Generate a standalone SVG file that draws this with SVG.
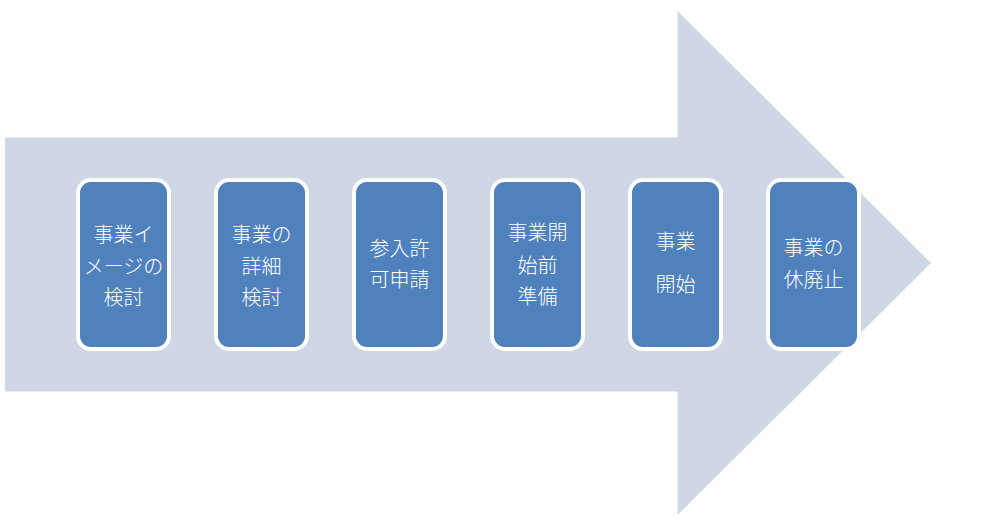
<svg xmlns="http://www.w3.org/2000/svg" width="1000" height="526" viewBox="0 0 1000 526">
<style>
.box{fill:#4F81BD;stroke:#FFFFFF;stroke-width:4}
.t{fill:#FFFFFF;font-family:"Noto Sans CJK JP","Noto Sans CJK SC",sans-serif;font-size:20px;font-weight:300;text-anchor:middle}
</style>
<rect width="1000" height="526" fill="#FFFFFF"/>
<g id="arrow">
<polygon points="5,137.5 677.5,137.5 677.5,11 931,263 677.5,515 677.5,391.5 5,391.5" fill="#CFD7E6"/>
</g>
<g id="connectors"></g>
<g id="n1">
<rect class="box" x="78" y="180" width="91" height="169" rx="13"/>
<text class="t" x="123.5" y="242">事業イ</text>
<text class="t" x="123.5" y="274">メージの</text>
<text class="t" x="123.5" y="305">検討</text>
</g>
<g id="n2">
<rect class="box" x="216" y="180" width="91" height="169" rx="13"/>
<text class="t" x="261.5" y="242">事業の</text>
<text class="t" x="261.5" y="274">詳細</text>
<text class="t" x="261.5" y="305">検討</text>
</g>
<g id="n3">
<rect class="box" x="354" y="180" width="91" height="169" rx="13"/>
<text class="t" x="399.5" y="256">参入許</text>
<text class="t" x="399.5" y="287">可申請</text>
</g>
<g id="n4">
<rect class="box" x="492" y="180" width="91" height="169" rx="13"/>
<text class="t" x="537.5" y="240">事業開</text>
<text class="t" x="537.5" y="273">始前</text>
<text class="t" x="537.5" y="304">準備</text>
</g>
<g id="n5">
<rect class="box" x="630" y="180" width="91" height="169" rx="13"/>
<text class="t" x="675.5" y="249">事業</text>
<text class="t" x="675.5" y="292">開始</text>
</g>
<g id="n6">
<rect class="box" x="768" y="180" width="91" height="169" rx="13"/>
<text class="t" x="813.5" y="255">事業の</text>
<text class="t" x="813.5" y="287">休廃止</text>
</g>
</svg>
